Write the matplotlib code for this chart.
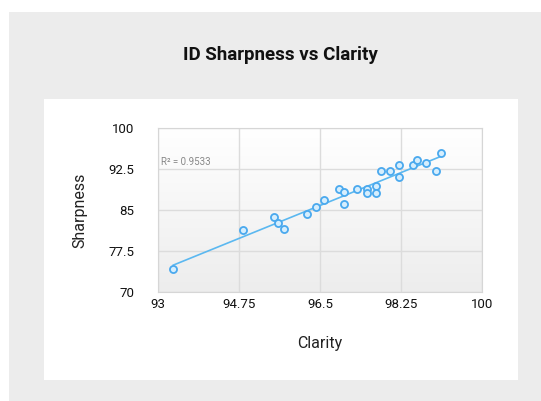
import matplotlib
matplotlib.use("Agg")
import matplotlib.pyplot as plt
import numpy as np
from matplotlib.patches import Rectangle
from matplotlib.colors import LinearSegmentedColormap

# data
clarity = [93.33, 94.84, 95.51, 95.60, 95.72, 96.21, 96.41, 96.59, 96.92, 97.02,
           97.02, 97.30, 97.52, 97.52, 97.72, 97.72, 97.81, 98.01, 98.20, 98.20,
           98.50, 98.59, 98.80, 99.00, 99.11]
sharpness = [74.15, 81.30, 83.65, 82.67, 81.57, 84.26, 85.60, 86.80, 88.77, 88.28,
             86.10, 88.83, 88.77, 88.04, 89.38, 88.04, 92.06, 92.06, 93.16, 91.08,
             93.16, 94.13, 93.53, 92.06, 95.47]
x_ticks = [93, 94.75, 96.5, 98.25, 100]
x_tick_labels = ["93", "94.75", "96.5", "98.25", "100"]
y_ticks = [70, 77.5, 85, 92.5, 100]
y_tick_labels = ["70", "77.5", "85", "92.5", "100"]
r2_label = "R\u00b2 = 0.9533"

plt.rcParams['font.family'] = ['Roboto', 'DejaVu Sans']

W, H = 541, 401
fig = plt.figure(figsize=(W / 100, H / 100), dpi=100)
fig.patch.set_facecolor("white")

# grey outer panel and white inner card
fig.patches.append(Rectangle((9 / W, 0), 1 - 9 / W, 1 - 12 / H, transform=fig.transFigure,
                             facecolor="#ececec", edgecolor="none", zorder=-2))
fig.patches.append(Rectangle((44 / W, 1 - 380 / H), (518 - 44) / W, (380 - 99) / H,
                             transform=fig.transFigure, facecolor="white", edgecolor="none", zorder=-1))

fig.text(280 / W, 1 - 55 / H, "ID Sharpness vs Clarity", ha="center", va="center",
         fontsize=13.5, fontweight="semibold", color="#111111")

ax = fig.add_axes([158 / W, 1 - 292 / H, 324 / W, 164 / H])
ax.set_xlim(93, 100)
ax.set_ylim(70, 100)

# soft vertical gradient in plot area
grad = np.linspace(0, 1, 100).reshape(-1, 1)
cmap = LinearSegmentedColormap.from_list("bg", ["#ededed", "#ffffff"])
ax.imshow(grad, extent=[0, 1, 0, 1], transform=ax.transAxes, aspect="auto",
          cmap=cmap, origin="lower", zorder=0)

ax.set_xticks(x_ticks)
ax.set_xticklabels(x_tick_labels)
ax.set_yticks(y_ticks)
ax.set_yticklabels(y_tick_labels)
ax.tick_params(length=0, labelsize=9.5, colors="#111111")
ax.tick_params(axis="y", pad=17)
ax.tick_params(axis="x", pad=4)
ax.grid(True, color="#dcdcdc", linewidth=1, zorder=1)
ax.set_axisbelow(True)
for s in ax.spines.values():
    s.set_color("#d6d6d6")

# linear trendline
coef = np.polyfit(clarity, sharpness, 1)
xs = np.array([min(clarity), max(clarity)])
ax.plot(xs, np.polyval(coef, xs), color="#5bb8f0", linewidth=1.2, zorder=3)

ax.scatter(clarity, sharpness, s=26, facecolor="#d6eefd", edgecolor="#4aa9ee",
           linewidth=1.3, zorder=4)

ax.text(0.01, 0.79, r2_label, transform=ax.transAxes, fontsize=7, color="#888888",
        ha="left", va="center", zorder=5)

ax.set_xlabel("Clarity", fontsize=11.5, color="#222222")
ax.set_ylabel("Sharpness", fontsize=11.5, color="#222222")
ax.xaxis.set_label_coords((320 - 158) / 324, -(336 - 292) / 164)
ax.yaxis.set_label_coords(-(158 - 87) / 324, 0.5)

fig.savefig("out.png", dpi=100)
